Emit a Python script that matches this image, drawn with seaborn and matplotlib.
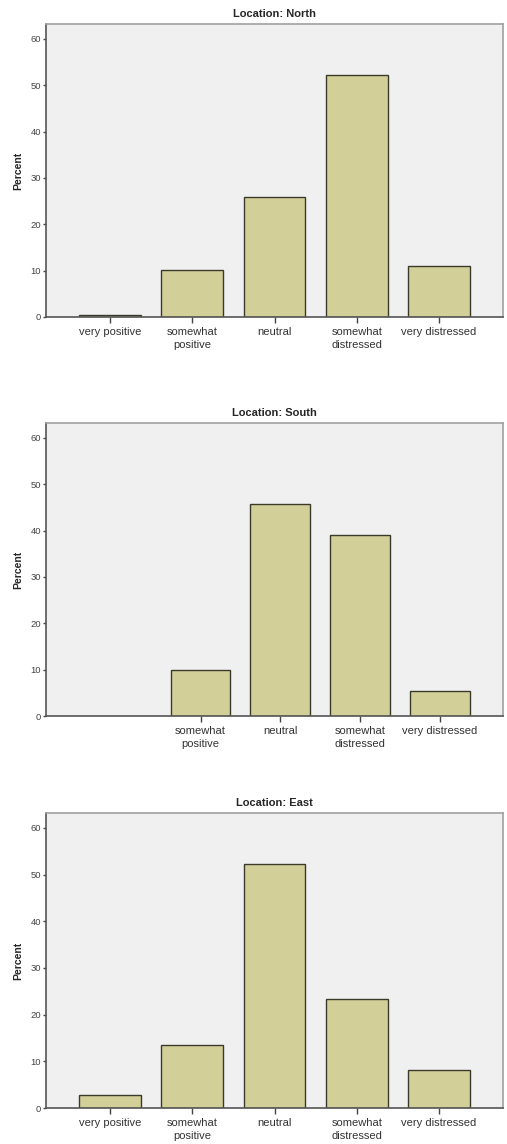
import matplotlib
matplotlib.use("Agg")
import matplotlib.pyplot as plt
import seaborn as sns
import pandas as pd

categories = ["very positive", "somewhat positive", "neutral", "somewhat distressed", "very distressed"]
tick_labels = ["very positive", "somewhat\npositive", "neutral", "somewhat\ndistressed", "very distressed"]

north_cats = ["very positive", "somewhat positive", "neutral", "somewhat distressed", "very distressed"]
north_vals = [0.5, 10.1, 25.9, 52.3, 11.1]

south_cats = ["somewhat positive", "neutral", "somewhat distressed", "very distressed"]
south_vals = [9.9, 45.8, 39.0, 5.4]

east_cats = ["very positive", "somewhat positive", "neutral", "somewhat distressed", "very distressed"]
east_vals = [2.8, 13.6, 52.2, 23.4, 8.2]

titles = ["Location: North", "Location: South", "Location: East"]
yticks = [0, 10, 20, 30, 40, 50, 60]

sns.set_theme(style="white")
plt.rcParams["font.family"] = ["Liberation Sans", "DejaVu Sans"]

fig = plt.figure(figsize=(5.07, 11.44), dpi=100)

W, H = 507, 1144
boxes = [(46, 24, 503, 317), (46, 423, 503, 716), (46, 813, 503, 1108)]
panels = [(north_cats, north_vals), (south_cats, south_vals), (east_cats, east_vals)]
xlims = [(-0.78, 4.78), (-0.94, 4.795), (-0.78, 4.78)]

for (l, t, r, b), (cats, vals), title, xl in zip(boxes, panels, titles, xlims):
    ax = fig.add_axes([l / W, 1 - b / H, (r - l) / W, (b - t) / H])
    df = pd.DataFrame({"cat": cats, "val": vals})
    sns.barplot(data=df, x="cat", y="val", order=categories, ax=ax,
                color="#d3cf98", saturation=1, width=0.75,
                edgecolor="#3a3a2a", linewidth=1.0)
    ax.set_facecolor("#f0f0f0")
    ax.set_xlim(*xl)
    ax.set_ylim(0, 63.2)
    ax.set_yticks(yticks)
    ax.set_yticklabels([str(v) for v in yticks], fontsize=6.8, color="#444444")
    present = [c in cats for c in categories]
    ax.set_xticks([i for i, p in enumerate(present) if p])
    ax.set_xticklabels([lab for lab, p in zip(tick_labels, present) if p],
                       fontsize=8, color="#333333", linespacing=1.4)
    ax.tick_params(axis="y", direction="out", length=2.5, width=1, color="#444444", pad=1, left=True)
    ax.tick_params(axis="x", direction="out", length=4, width=1, color="#444444", pad=3, bottom=True)
    ax.set_xlabel("")
    ax.set_ylabel("Percent", fontsize=7.5, fontweight="bold", labelpad=5)
    ax.set_title(title, fontsize=8, fontweight="bold", pad=5)
    for side in ["top", "right"]:
        ax.spines[side].set_color("#a0a0a0")
        ax.spines[side].set_linewidth(1.2)
        ax.spines[side].set_visible(True)
    for side in ["left", "bottom"]:
        ax.spines[side].set_color("#555555")
        ax.spines[side].set_linewidth(1.2)
        ax.spines[side].set_visible(True)

fig.savefig("out.png", dpi=100, facecolor="white")
